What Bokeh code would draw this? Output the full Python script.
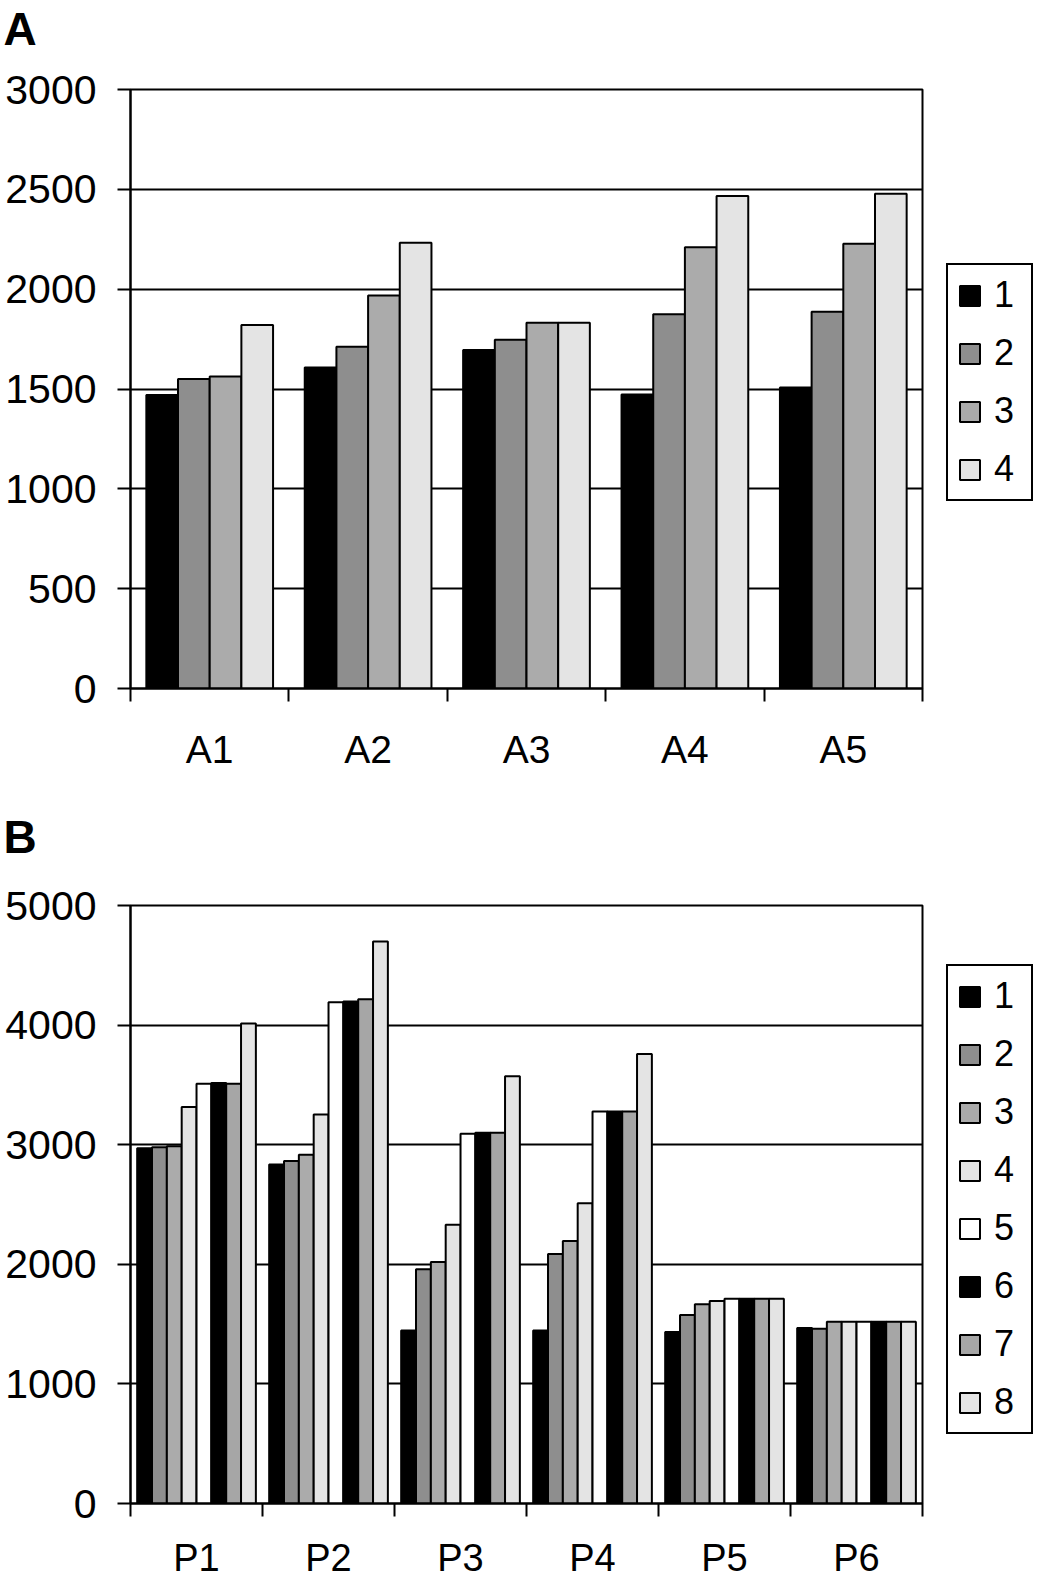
from bokeh.plotting import figure
from bokeh.models import (ColumnDataSource, Legend, LegendItem, LinearAxis,
                          FixedTicker, Range1d, Title)
from bokeh.layouts import column
from bokeh.embed import file_html
from bokeh.resources import INLINE

# ---------------- data ----------------
cats_a = ["A1", "A2", "A3", "A4", "A5"]
series_a_names = ["1", "2", "3", "4"]
a1 = [1470, 1608, 1695, 1473, 1507]
a2 = [1550, 1712, 1747, 1875, 1887]
a3 = [1562, 1968, 1832, 2210, 2227]
a4 = [1820, 2232, 1832, 2467, 2478]
yticks_a = [0, 500, 1000, 1500, 2000, 2500, 3000]

cats_b = ["P1", "P2", "P3", "P4", "P5", "P6"]
series_b_names = ["1", "2", "3", "4", "5", "6", "7", "8"]
b1 = [2971, 2834, 1446, 1446, 1433, 1468]
b2 = [2978, 2863, 1959, 2086, 1576, 1462]
b3 = [2987, 2917, 2019, 2194, 1666, 1519]
b4 = [3315, 3252, 2331, 2510, 1694, 1519]
b5 = [3510, 4191, 3092, 3277, 1713, 1519]
b6 = [3516, 4197, 3099, 3277, 1713, 1519]
b7 = [3510, 4217, 3099, 3277, 1713, 1519]
b8 = [4013, 4700, 3573, 3758, 1713, 1519]
yticks_b = [0, 1000, 2000, 3000, 4000, 5000]

colors_a = ["#000000", "#8e8e8e", "#ababab", "#e4e4e4"]
colors_b = ["#000000", "#8e8e8e", "#ababab", "#e4e4e4",
            "#ffffff", "#000000", "#a6a6a6", "#e4e4e4"]

FONT = "Liberation Sans"
W = 1037


def make_header(letter, height, top_space):
    h = figure(width=W, height=height, title=None, frame_align=False,
               min_border_left=0, min_border_right=0,
               min_border_top=top_space, min_border_bottom=0,
               x_range=Range1d(0, 1), y_range=Range1d(0, 1),
               x_axis_location=None, y_axis_location=None,
               output_backend="svg", toolbar_location=None,
               background_fill_color="white", border_fill_color="white")
    h.outline_line_color = None
    h.grid.visible = False
    h.add_layout(Title(text=letter, align="left", offset=3, standoff=0,
                       text_font=FONT, text_font_style="bold",
                       text_font_size="46px", text_color="black"), "above")
    return h


def make_chart(cats, names, series, colors, yticks, bar_frac, pad,
               top_border, frame_h, bottom_border, legend_y, x_standoff,
               x_font):
    n = len(cats)
    p = figure(frame_width=792, frame_height=frame_h, frame_align=False,
               min_border_left=130, min_border_right=115,
               min_border_top=top_border, min_border_bottom=bottom_border,
               x_range=Range1d(0, n), y_range=Range1d(yticks[0], yticks[-1]),
               x_axis_location=None, y_axis_location=None,
               output_backend="svg", toolbar_location=None,
               background_fill_color="white", border_fill_color="white")
    p.outline_line_color = "black"
    p.outline_line_width = 2
    p.xgrid.visible = False
    p.ygrid.ticker = FixedTicker(ticks=yticks)
    p.ygrid.grid_line_color = "black"
    p.ygrid.grid_line_width = 2

    # y axis
    ya = LinearAxis(ticker=FixedTicker(ticks=yticks))
    ya.axis_line_color = "black"
    ya.axis_line_width = 2
    ya.major_tick_line_width = 2
    ya.major_tick_out = 13
    ya.major_tick_in = 0
    ya.minor_tick_line_color = None
    ya.major_label_standoff = 21
    ya.major_label_text_font = FONT
    ya.major_label_text_font_size = "41px"
    ya.major_label_text_color = "black"
    p.add_layout(ya, "left")

    # x axis: labels at category centres, tick marks between categories
    centers = [i + 0.5 for i in range(n)]
    xa = LinearAxis(ticker=FixedTicker(ticks=centers,
                                       minor_ticks=list(range(n + 1))))
    xa.major_label_overrides = {c: lab for c, lab in zip(centers, cats)}
    xa.axis_line_color = "black"
    xa.axis_line_width = 2
    xa.major_tick_line_color = None
    xa.major_tick_out = 0
    xa.major_tick_in = 0
    xa.minor_tick_line_color = "black"
    xa.minor_tick_line_width = 2
    xa.minor_tick_out = 13
    xa.minor_tick_in = 0
    xa.major_label_standoff = x_standoff
    xa.major_label_text_font = FONT
    xa.major_label_text_font_size = x_font
    xa.major_label_text_color = "black"
    p.add_layout(xa, "below")

    items = []
    for j, (vals, col, name) in enumerate(zip(series, colors, names)):
        xs = [i + pad + bar_frac * (j + 0.5) for i in range(n)]
        src = ColumnDataSource(dict(x=xs, top=vals))
        r = p.vbar(x="x", top="top", bottom=0, width=bar_frac, source=src,
                   fill_color=col, line_color="black", line_width=2)
        items.append(LegendItem(label=name, renderers=[r]))

    leg = Legend(items=items, location=(24, legend_y))
    leg.border_line_color = "black"
    leg.border_line_alpha = 1.0
    leg.border_line_width = 2
    leg.background_fill_color = "white"
    leg.background_fill_alpha = 1.0
    leg.padding = 9
    leg.spacing = 16
    leg.margin = 12
    leg.glyph_width = 25
    leg.glyph_height = 25
    leg.label_height = 38
    leg.label_width = 28
    leg.label_standoff = 12
    leg.label_text_font = FONT
    leg.label_text_font_size = "36px"
    leg.label_text_color = "black"
    leg.label_text_baseline = "middle"
    p.add_layout(leg, "right")
    return p


hA = make_header("A", 60, 0)
pA = make_chart(cats_a, series_a_names, [a1, a2, a3, a4], colors_a,
                yticks_a, 0.2, 0.1, 29, 599, 99, 187, 26, "39px")
hB = make_header("B", 80, 75)
pB = make_chart(cats_b, series_b_names, [b1, b2, b3, b4, b5, b6, b7, b8],
                colors_b, yticks_b, 0.1124, 0.0506, 38, 598, 81, 69, 20,
                "38px")

layout = column(hA, pA, hB, pB, spacing=0)
open("out.html", "w").write(file_html(layout, INLINE))
